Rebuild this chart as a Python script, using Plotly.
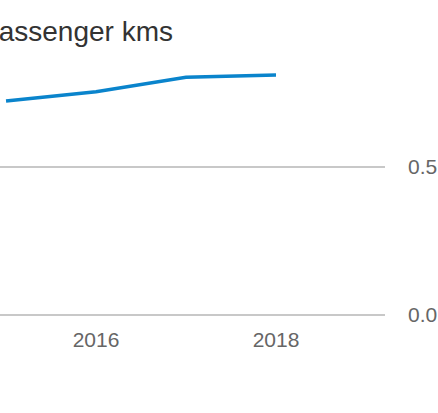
import plotly.graph_objects as go

years = [2015, 2016, 2017, 2018]
passenger_kms = [0.723, 0.754, 0.803, 0.811]
title_text = "Passenger kms"

W, H = 438, 413
ml, mr, mt, mb = 0, 53, 50, 96
plot_w = W - ml - mr
plot_h = H - mt - mb
px_per_unit = 296
below = 2  # pixels below zero inside plot

fig = go.Figure()
fig.add_trace(go.Scatter(
    x=years, y=passenger_kms, mode="lines",
    line=dict(color="#0a84cc", width=3.5),
    hoverinfo="skip", showlegend=False,
))

fig.add_annotation(
    text=title_text, xref="paper", yref="paper",
    x=175 / plot_w, y=(mt + plot_h - 31) / plot_h,
    xanchor="right", yanchor="middle", showarrow=False,
    font=dict(family="Arial, Liberation Sans, sans-serif", size=28, color="#333333"),
)

fig.update_layout(
    width=W, height=H,
    margin=dict(l=ml, r=mr, t=mt, b=mb),
    paper_bgcolor="white", plot_bgcolor="white",
    font=dict(family="Arial, Liberation Sans, sans-serif"),
    xaxis=dict(
        range=[2014.933, 2019.211], tick0=2016, dtick=2,
        showgrid=False, zeroline=False, showline=False,
        tickfont=dict(size=21, color="#666666"),
        ticks="", tickformat="d", ticklabelstandoff=8,
    ),
    yaxis=dict(
        range=[-below / px_per_unit, (plot_h - below) / px_per_unit],
        side="right", tick0=0, dtick=0.5,
        tickformat=".1f",
        showgrid=True, gridcolor="#c8c8c8", gridwidth=1.2,
        zeroline=True, zerolinecolor="#c8c8c8", zerolinewidth=1.2,
        showline=False,
        tickfont=dict(size=21, color="#666666"),
        ticks="", ticklabelstandoff=22,
    ),
)

fig.write_html(
    "out.html",
    config={"displayModeBar": False, "staticPlot": True},
    post_script="document.body.style.margin='0';document.body.style.overflow='hidden';",
)
